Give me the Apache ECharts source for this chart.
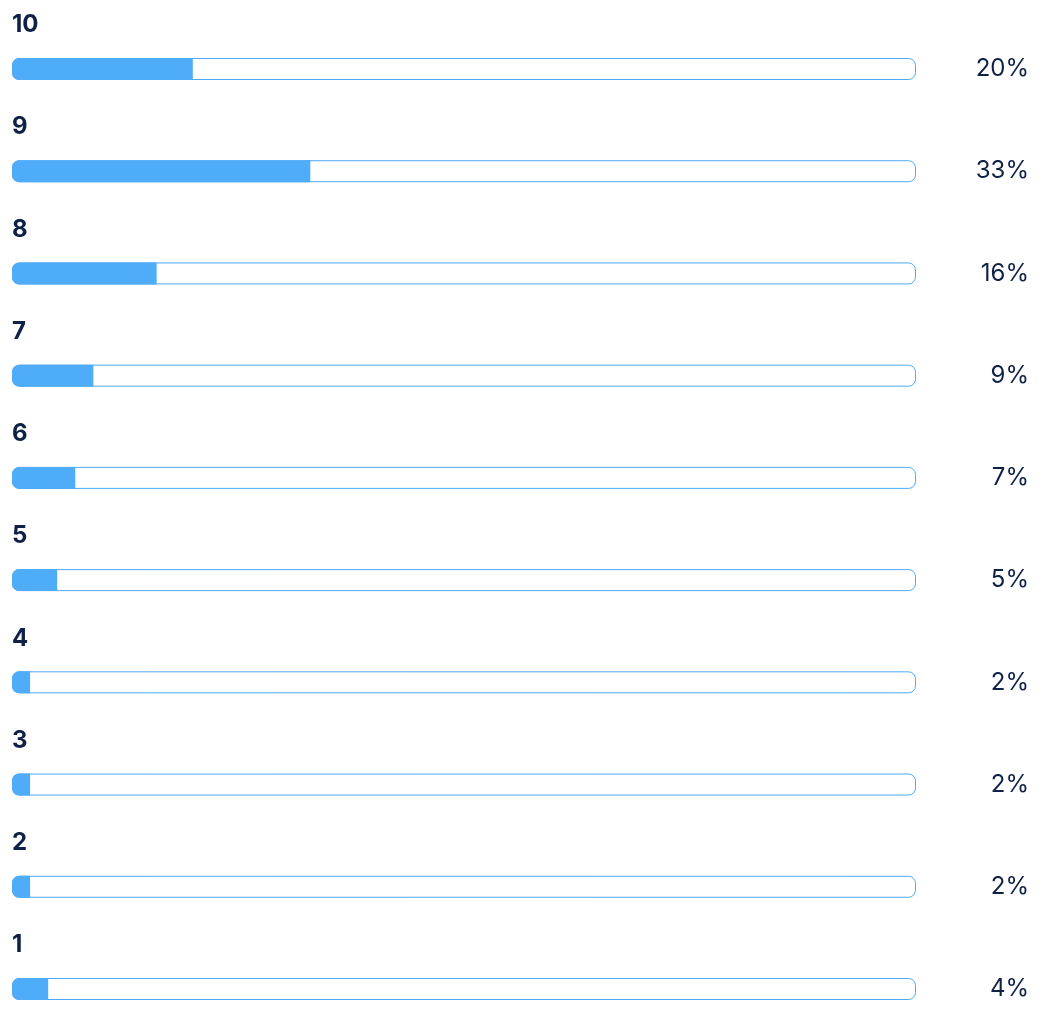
<!DOCTYPE html>
<html><head><meta charset="utf-8">
<script src="https://cdn.jsdelivr.net/npm/echarts@6/dist/echarts.min.js"></script>
<style>html,body{margin:0;padding:0;background:#fff}#c{width:1054px;height:1018px}</style>
</head><body><div id="c"></div>
<script>
const categories = ['10','9','8','7','6','5','4','3','2','1'];
const values = [20,33,16,9,7,5,2,2,2,4];
const full = categories.map(()=>100);
const chart = echarts.init(document.getElementById('c'));
const txt = '#0f2147';
chart.setOption({
  animation:false,
  grid:{left:12,right:138,top:69,bottom:29},
  xAxis:{type:'value',min:0,max:100,show:false},
  yAxis:{type:'category',data:categories,inverse:true,boundaryGap:false,show:false},
  series:[
    {type:'bar',data:full,barWidth:22,barGap:'-100%',silent:true,
     itemStyle:{color:'#fff',borderColor:'#4da9f8',borderWidth:1,borderRadius:7},
     label:{show:true,position:'insideLeft',distance:0,offset:[0,-44],
       formatter:p=>p.name,fontFamily:'Inter',fontWeight:700,fontSize:24,color:txt}},
    {type:'bar',data:values,barWidth:22,barGap:'-100%',silent:true,
     itemStyle:{color:'#4facf8',borderRadius:[7,0,0,7]}},
    {type:'bar',data:full,barWidth:22,barGap:'-100%',silent:true,
     itemStyle:{color:'rgba(0,0,0,0)'},
     label:{show:true,position:'right',distance:113,align:'right',
       formatter:p=>values[p.dataIndex]+'%',fontFamily:'Inter',fontSize:24,color:txt}}
  ]
});
</script></body></html>
